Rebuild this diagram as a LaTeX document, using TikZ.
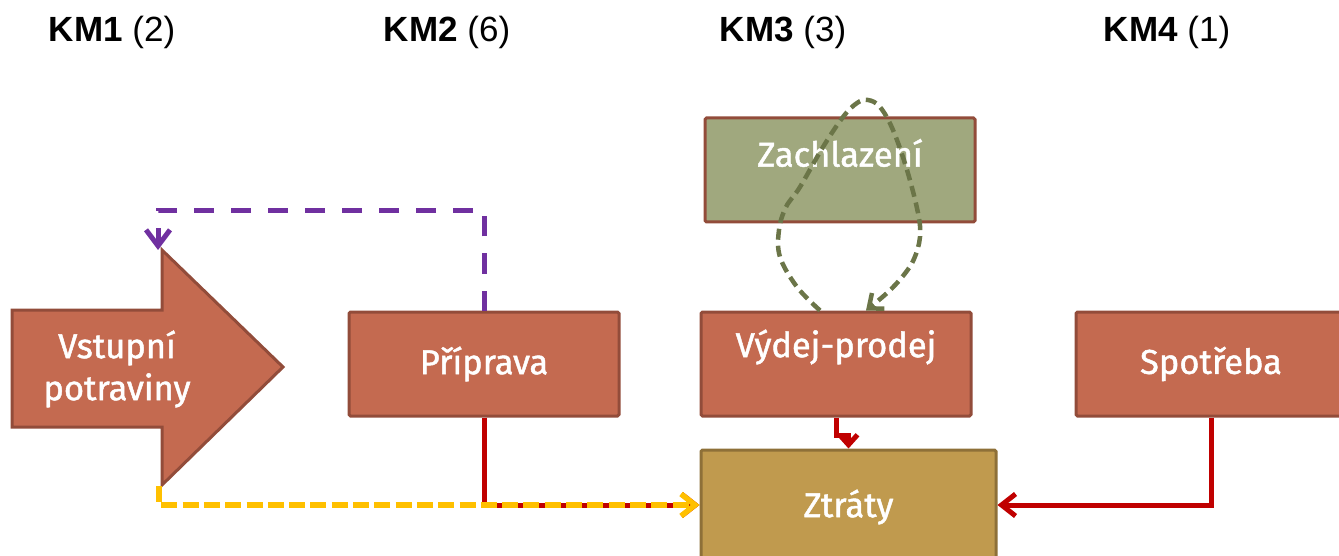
\documentclass[tikz,border=0pt]{standalone}
\usepackage{fontspec}
\setmainfont{Liberation Sans}
\newfontfamily\boxfont[FakeBold=1.3]{Fira Sans}
\usetikzlibrary{arrows.meta,calc}
\definecolor{boxred}{RGB}{196,106,80}
\definecolor{boxredline}{RGB}{146,76,58}
\definecolor{boxgreen}{RGB}{160,168,126}
\definecolor{boxtan}{RGB}{192,154,78}
\definecolor{boxtanline}{RGB}{142,112,56}
\definecolor{cred}{RGB}{192,0,0}
\definecolor{cyellow}{RGB}{255,192,0}
\definecolor{cpurple}{RGB}{112,48,160}
\definecolor{cgreen}{RGB}{107,117,72}
\begin{document}
\begin{tikzpicture}[x=1pt,y=-1pt,
  box/.style={draw=boxredline, line width=3pt, fill=boxred, rounded corners=1.5pt,
    minimum width=270pt, minimum height=104pt, inner sep=0pt},
  boxlbl/.style={text=white, font=\boxfont\fontsize{34.5}{42}\selectfont, align=center},
  header/.style={font=\fontsize{35}{40}\selectfont, anchor=base},
  barb/.style={-{Straight Barb[length=14pt,width=22pt]}},
  redline/.style={draw=cred, line width=5pt},
]
\clip (0,0) rectangle (1339,556);

% headers
\node[header] (h1) at (112,42) {\textbf{KM1} (2)};
\node[header] (h2) at (447,42) {\textbf{KM2} (6)};
\node[header] (h3) at (783,42) {\textbf{KM3} (3)};
\node[header] (h4) at (1167,42) {\textbf{KM4} (1)};

% input arrow shape
\draw[draw=boxredline, line width=3pt, fill=boxred, line join=miter]
  (12,310) -- (162,310) -- (162,250) -- (283,367) -- (162,485) -- (162,427) -- (12,427) -- cycle;
\node[boxlbl] (vst) at (117,369) {Vstupní\\potraviny};
\coordinate (vtop) at (158,250);
\coordinate (vbot) at (159,486);

% boxes
\node[box] (pri) at (484,364) {};
\node[boxlbl] at (pri) {Příprava};
\node[box, fill=boxgreen] (zach) at (840,170) {};
\node[boxlbl] at ($(zach)+(0,-17)$) {Zachlazení};
\node[box] (vyd) at (836,364) {};
\node[boxlbl] at ($(vyd)+(0,-17)$) {Výdej-prodej};
\node[box] (spo) at (1211,364) {};
\node[boxlbl] at (spo) {Spotřeba};
\node[box, draw=boxtanline, fill=boxtan, minimum width=295pt, minimum height=110pt] (ztr) at (848.5,505) {};
\node[boxlbl] at ($(ztr)+(0,2)$) {Ztráty};

% connectors
\draw[redline, barb] (pri.south) |- (ztr.west);
\draw[draw=cyellow, line width=5.5pt, dash pattern=on 16pt off 5.3pt, barb] (vbot) |- (ztr.west);
\draw[draw=cpurple, line width=5pt, dash pattern=on 20pt off 17pt,
  -{Straight Barb[length=16pt,width=24pt]}] (pri.north) -- ++(0,-100) -| (vtop);
\draw[redline, -{Straight Barb[length=10pt,width=18pt]}] (vyd.south) -- ++(0,18) -| (ztr.north);
\draw[redline, barb] (spo.south) |- (ztr.east);

\coordinate (gs) at ($(vyd.north)+(-16,0)$);
\coordinate (ge) at ($(vyd.north)+(30,0)$);
\draw[draw=cgreen, line width=4.5pt, dash pattern=on 11pt off 6pt,
  -{Straight Barb[length=12pt,width=20pt]}]
  plot[smooth, tension=0.6] coordinates {(gs) (797,287) (780,257) (779,230) (786,207) (800,187) (823,147) (843,117) (857,103) (868,100) (880,107) (893,130) (907,170) (918,213) (920,237) (914,259) (903,276) (887,293) (ge)};
\end{tikzpicture}
\end{document}
